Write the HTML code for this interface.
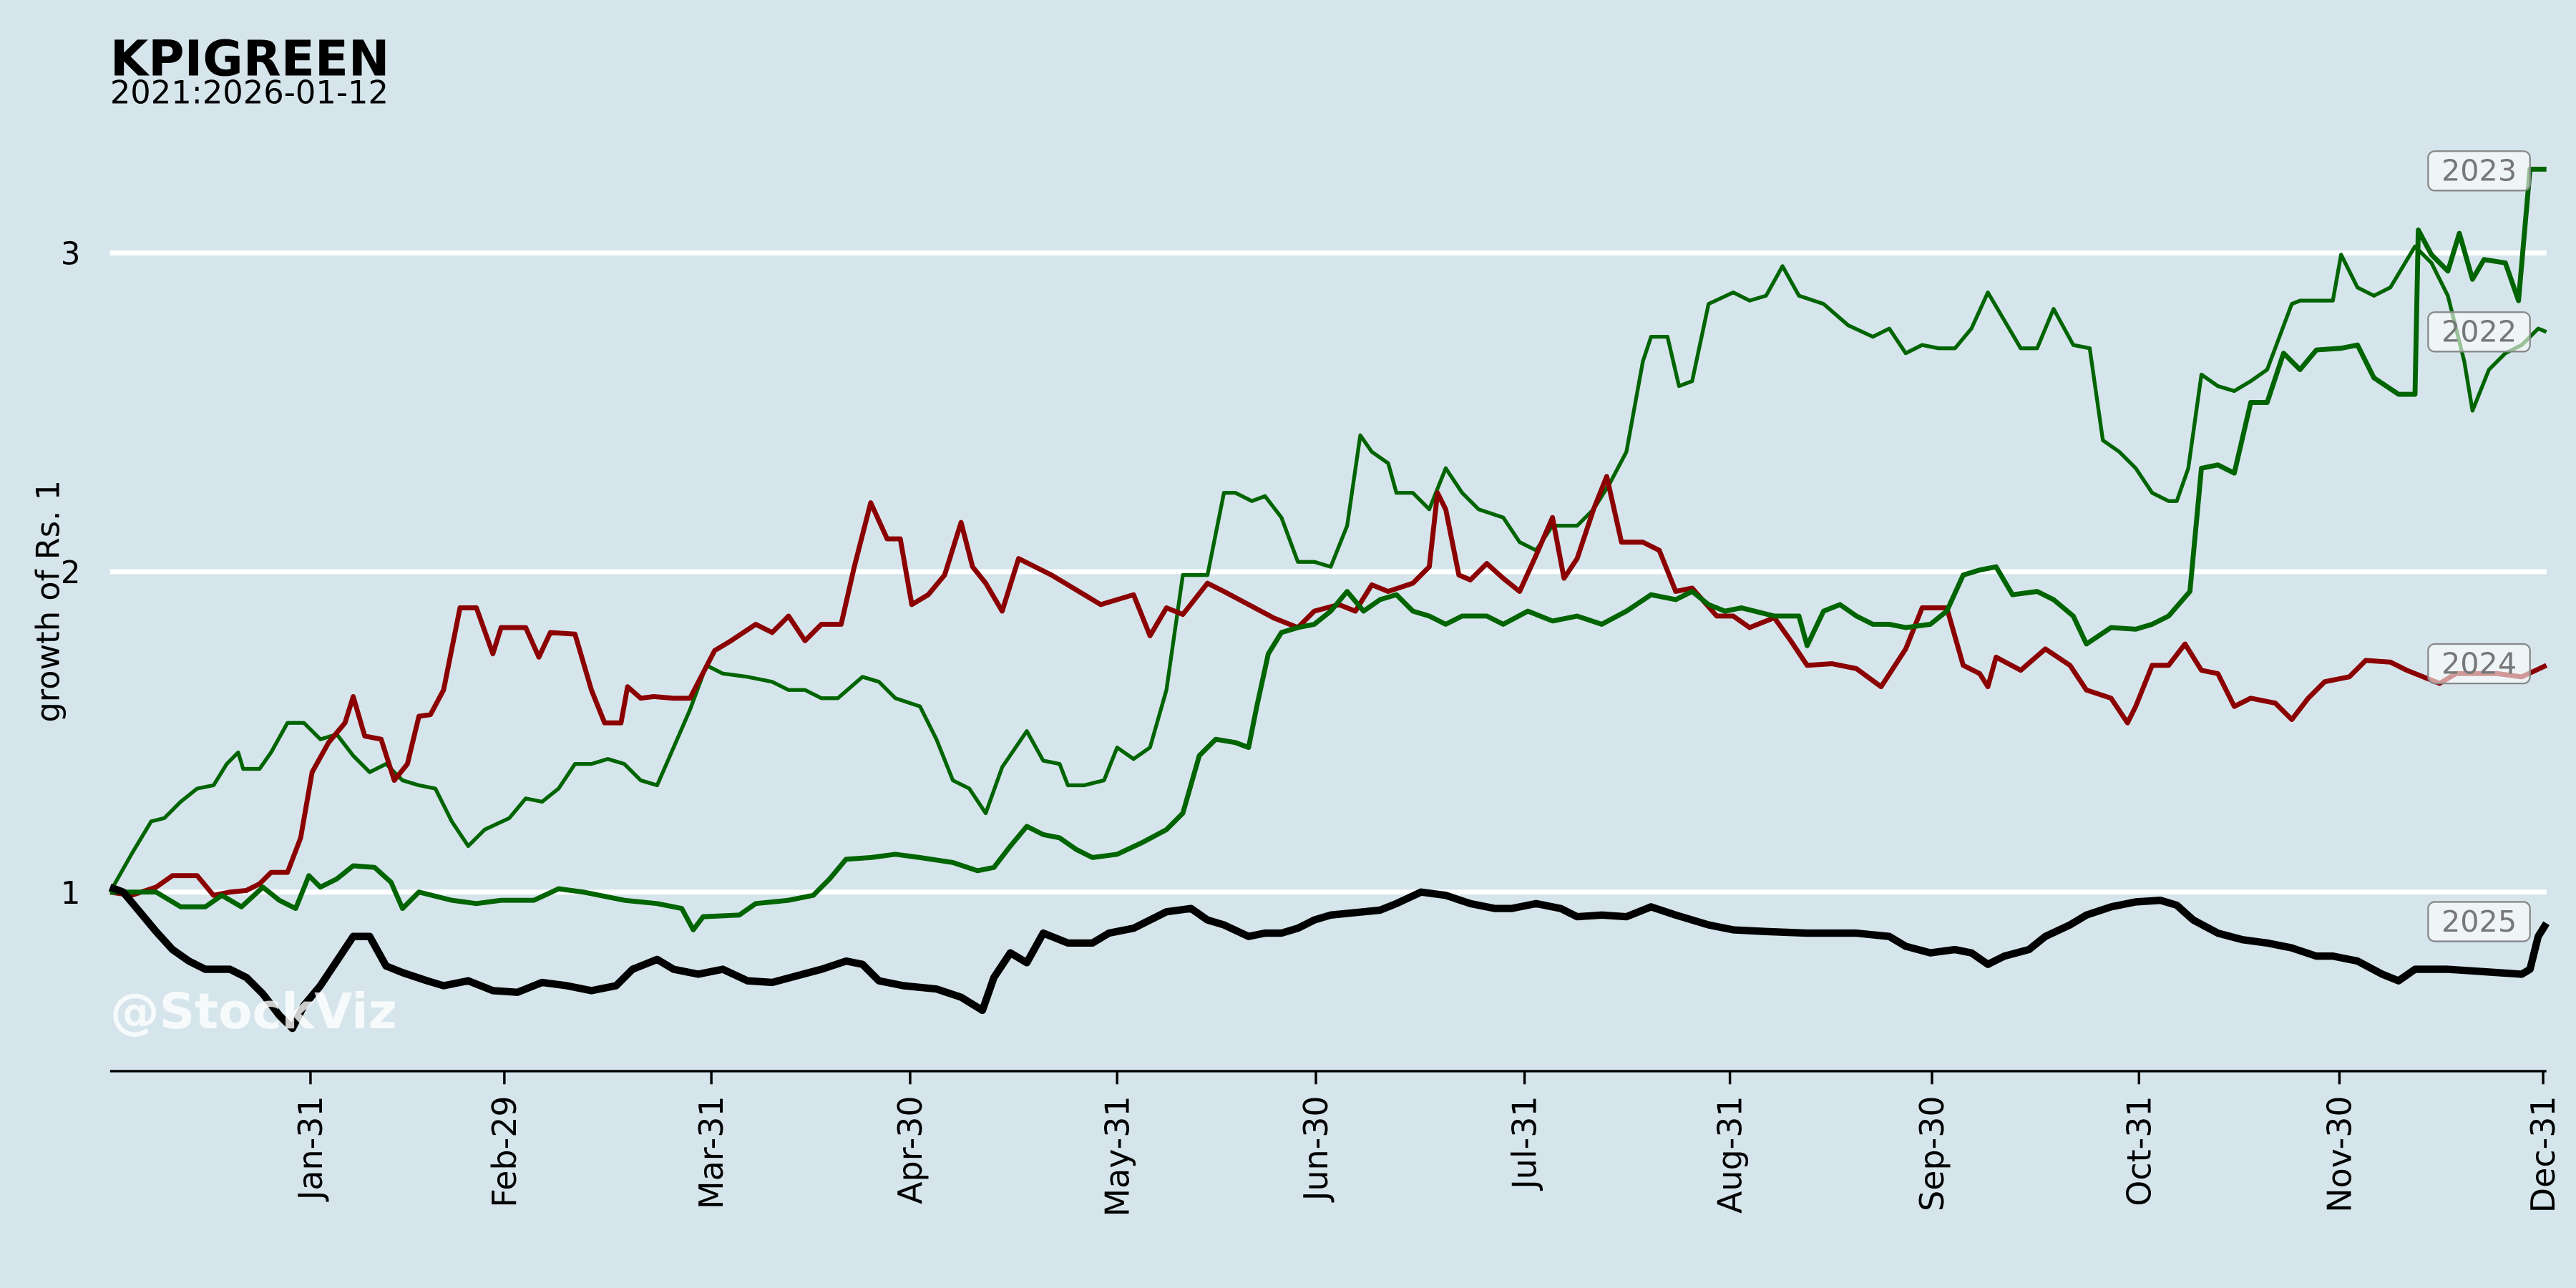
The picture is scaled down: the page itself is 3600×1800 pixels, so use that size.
<!DOCTYPE html>
<html><head><meta charset="utf-8"><style>
html,body{margin:0;padding:0;background:#d6e5ec;}
svg{display:block;}
text{font-family:"DejaVu Sans","Liberation Sans",sans-serif;}
</style></head><body>
<svg width="3600" height="1800" viewBox="0 0 1568 784" preserveAspectRatio="none" xmlns="http://www.w3.org/2000/svg">
<rect width="1568" height="784" fill="#d6e5ec"/>
<text x="67" y="46" font-size="30" font-weight="bold" fill="#000">KPIGREEN</text>
<text x="67" y="63" font-size="19.5" fill="#000">2021:2026-01-12</text>
<g stroke="#fff" stroke-width="3">
<line x1="67" y1="154" x2="1550" y2="154"/><line x1="67" y1="348" x2="1550" y2="348"/><line x1="67" y1="543" x2="1550" y2="543"/>
</g>
<g font-size="19" fill="#000" text-anchor="end">
<text x="49" y="161">3</text><text x="49" y="355">2</text><text x="49" y="550">1</text>
</g>
<text transform="translate(36,366) rotate(-90)" font-size="19.5" text-anchor="middle">growth of Rs. 1</text>
<line x1="67" y1="652" x2="1550" y2="652" stroke="#000" stroke-width="1.5"/>
<g stroke="#000" stroke-width="1.5">
<line x1="189" y1="652" x2="189" y2="660"/><line x1="307" y1="652" x2="307" y2="660"/><line x1="433" y1="652" x2="433" y2="660"/><line x1="554" y1="652" x2="554" y2="660"/><line x1="680" y1="652" x2="680" y2="660"/><line x1="801" y1="652" x2="801" y2="660"/><line x1="928" y1="652" x2="928" y2="660"/><line x1="1053" y1="652" x2="1053" y2="660"/><line x1="1176" y1="652" x2="1176" y2="660"/><line x1="1302" y1="652" x2="1302" y2="660"/><line x1="1424" y1="652" x2="1424" y2="660"/><line x1="1548" y1="652" x2="1548" y2="660"/>
</g>
<g font-size="20" fill="#000" text-anchor="end">
<text transform="translate(196,667) rotate(-90)">Jan-31</text>
<text transform="translate(314,667) rotate(-90)">Feb-29</text>
<text transform="translate(440,667) rotate(-90)">Mar-31</text>
<text transform="translate(561,667) rotate(-90)">Apr-30</text>
<text transform="translate(687,667) rotate(-90)">May-31</text>
<text transform="translate(808,667) rotate(-90)">Jun-30</text>
<text transform="translate(935,667) rotate(-90)">Jul-31</text>
<text transform="translate(1060,667) rotate(-90)">Aug-31</text>
<text transform="translate(1183,667) rotate(-90)">Sep-30</text>
<text transform="translate(1309,667) rotate(-90)">Oct-31</text>
<text transform="translate(1431,667) rotate(-90)">Nov-30</text>
<text transform="translate(1555,667) rotate(-90)">Dec-31</text>
</g>
<g fill="none" stroke-linejoin="round">
<polyline stroke="#006400" stroke-width="2.3" points="67,543 80,520 92,500 100,498 110,488 120,480 130,478 138,465 145,458 148,468 158,468 165,458 175,440 185,440 195,450 205,447 215,460 225,470 235,465 245,475 255,478 265,480 275,500 285,515 295,505 310,498 320,486 330,488 340,480 350,465 360,465 370,462 380,465 390,475 400,478 410,455 420,432 430,405 440,410 455,412 470,415 480,420 490,420 500,425 510,425 525,412 535,415 545,425 560,430 570,450 580,475 590,480 600,495 610,467 625,445 635,463 645,465 650,478 660,478 672,475 680,455 690,462 700,455 710,420 720,350 735,350 745,300 752,300 762,305 770,302 780,315 790,342 800,342 810,345 820,320 828,265 835,275 845,282 850,300 860,300 870,310 880,285 890,300 900,310 915,315 925,330 935,335 945,320 960,320 970,310 980,294 990,275 1000,220 1005,205 1015,205 1022,235 1030,232 1040,185 1055,178 1065,183 1075,180 1085,162 1095,180 1110,185 1125,198 1140,205 1150,200 1160,215 1170,210 1180,212 1190,212 1200,200 1210,178 1220,195 1230,212 1240,212 1250,188 1262,210 1272,212 1280,268 1290,275 1300,285 1310,300 1320,305 1325,305 1332,285 1340,228 1350,235 1360,238 1370,232 1380,225 1395,185 1400,183 1410,183 1420,183 1425,155 1435,175 1445,180 1455,175 1470,150 1480,160 1490,180 1500,220 1505,250 1515,225 1525,215 1535,210 1545,200 1550,202"/>
<polyline stroke="#8b0000" stroke-width="3" points="67,543 80,545 95,540 105,533 120,533 130,545 140,543 150,542 158,538 165,531 175,531 183,510 190,470 200,452 210,440 215,424 222,448 232,450 240,475 248,465 255,436 262,435 270,420 280,370 290,370 300,398 305,382 320,382 328,400 335,385 350,386 360,420 368,440 378,440 382,418 390,425 398,424 410,425 420,425 435,396 445,390 460,380 470,385 480,375 490,390 500,380 512,380 520,345 530,306 540,328 548,328 555,368 565,362 575,350 585,318 592,345 600,355 610,372 620,340 630,345 640,350 650,356 660,362 670,368 680,365 690,362 700,387 710,370 720,374 735,355 745,360 760,368 775,376 790,382 800,372 815,368 825,372 835,356 845,360 860,355 870,345 875,300 880,310 888,350 895,353 905,343 915,352 925,360 935,338 945,315 952,352 960,340 970,310 978,290 987,330 1000,330 1010,335 1020,360 1030,358 1045,375 1055,375 1065,382 1080,376 1090,390 1100,405 1115,404 1130,407 1145,418 1160,395 1170,370 1185,370 1195,405 1205,410 1210,418 1215,400 1230,408 1245,395 1260,405 1270,420 1285,425 1295,440 1300,430 1310,405 1320,405 1330,392 1340,408 1350,410 1360,430 1370,425 1385,428 1395,438 1405,425 1415,415 1430,412 1440,402 1455,403 1465,408 1475,412 1485,416 1495,410 1505,410 1520,410 1535,412 1550,405"/>
<polyline stroke="#006400" stroke-width="3" points="67,543 80,543 95,543 110,552 125,552 135,545 147,552 160,540 170,548 180,553 188,533 195,540 205,535 215,527 228,528 238,537 245,553 255,543 275,548 290,550 305,548 325,548 340,541 355,543 365,545 380,548 400,550 415,553 422,566 428,558 450,557 460,550 480,548 495,545 505,535 515,523 530,522 545,520 560,522 580,525 595,530 605,528 615,515 625,503 635,508 645,510 655,517 665,522 680,520 695,513 710,505 720,495 730,460 740,450 752,452 760,455 765,430 772,398 780,385 790,382 800,380 810,372 820,360 830,372 840,365 850,362 860,372 870,375 880,380 890,375 905,375 915,380 930,372 945,378 960,375 975,380 990,372 1005,362 1020,365 1030,360 1040,368 1050,372 1060,370 1080,375 1095,375 1100,393 1110,372 1120,368 1130,375 1140,380 1150,380 1160,382 1175,380 1185,372 1195,350 1205,347 1215,345 1225,362 1240,360 1250,365 1262,375 1270,392 1285,382 1300,383 1310,380 1320,375 1333,360 1340,285 1350,283 1360,288 1370,245 1380,245 1390,215 1400,225 1410,213 1425,212 1435,210 1445,230 1460,240 1470,240 1472,140 1480,155 1490,165 1497,142 1505,170 1512,158 1525,160 1533,183 1540,103 1550,103"/>
<polyline stroke="#000" stroke-width="4.5" points="67,540 75,543 85,555 95,567 105,578 115,585 125,590 140,590 150,595 160,605 170,618 178,626 185,612 195,600 205,585 215,570 225,570 235,588 245,592 260,597 270,600 285,597 300,603 315,604 330,598 345,600 360,603 375,600 385,590 400,584 410,590 425,593 440,590 455,597 470,598 485,594 500,590 515,585 525,587 535,597 550,600 570,602 585,607 598,615 605,595 615,580 625,586 635,568 650,574 665,574 675,568 690,565 700,560 710,555 725,553 735,560 745,563 760,570 770,568 780,568 790,565 800,560 810,557 820,556 830,555 840,554 850,550 865,543 880,545 895,550 910,553 920,553 935,550 950,553 960,558 975,557 990,558 1005,552 1020,557 1040,563 1055,566 1075,567 1100,568 1130,568 1150,570 1160,576 1175,580 1190,578 1200,580 1210,587 1220,582 1235,578 1245,570 1260,563 1270,557 1285,552 1300,549 1315,548 1325,551 1335,560 1350,568 1365,572 1380,574 1395,577 1410,582 1420,582 1435,585 1450,593 1460,597 1470,590 1490,590 1505,591 1520,592 1535,593 1540,590 1545,570 1550,562"/>
</g>
<text x="67" y="626" font-size="30" font-weight="bold" fill="#fff" fill-opacity="0.8">@StockViz</text>
<g font-size="18" fill="#777">
<rect x="1478" y="92" width="62" height="24" rx="4" fill="#fff" fill-opacity="0.6" stroke="#888"/><text x="1509" y="110" text-anchor="middle">2023</text>
<rect x="1478" y="190" width="62" height="24" rx="4" fill="#fff" fill-opacity="0.6" stroke="#888"/><text x="1509" y="208" text-anchor="middle">2022</text>
<rect x="1478" y="392" width="62" height="24" rx="4" fill="#fff" fill-opacity="0.6" stroke="#888"/><text x="1509" y="410" text-anchor="middle">2024</text>
<rect x="1478" y="549" width="62" height="24" rx="4" fill="#fff" fill-opacity="0.6" stroke="#888"/><text x="1509" y="567" text-anchor="middle">2025</text>
</g>
</svg>
</body></html>
